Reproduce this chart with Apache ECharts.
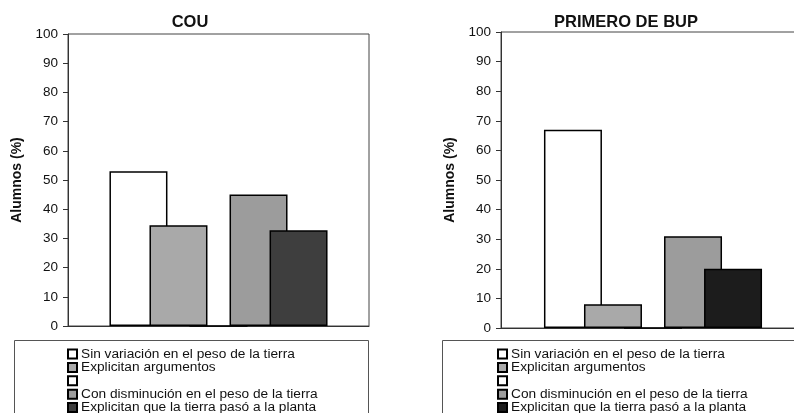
<!DOCTYPE html>
<html>
<head>
<meta charset="utf-8">
<script src="https://cdn.jsdelivr.net/npm/echarts@6/dist/echarts.min.js"></script>
<style>
  html, body { margin: 0; padding: 0; width: 794px; height: 413px; overflow: hidden; background: #fff; }
  #cou { position: absolute; left: 0; top: 0; width: 400px; height: 413px; }
  #bup { position: absolute; left: 400px; top: 0; width: 420px; height: 413px; }
</style>
</head>
<body>
<div id="cou"></div>
<div id="bup"></div>
<script>
// Series names (the third one is an empty spacer entry in the legend)
const seriesNames = [
  'Sin variación en el peso de la tierra',
  'Explicitan argumentos',
  ' ',
  'Con disminución en el peso de la tierra',
  'Explicitan que la tierra pasó a la planta'
];
const categories = [''];
const yTicks = [0, 10, 20, 30, 40, 50, 60, 70, 80, 90, 100];

// Percentage of students per answer type
const couValues = [53, 34.5, 0, 45, 32.8];
const bupValues = [67, 8, 0, 31, 20];

const FONT = 'Liberation Sans, Arial, sans-serif';

function buildOption(title, values, layout) {
  const fills = ['#ffffff', '#a9a9a9', '#ffffff', '#9c9c9c', layout.darkFill];
  return {
    animation: false,
    textStyle: { fontFamily: FONT },
    title: {
      text: title,
      left: layout.titleX,
      top: 9,
      textAlign: 'center',
      textStyle: { fontFamily: FONT, fontSize: 16.5, fontWeight: 'bold', color: '#111' }
    },
    grid: {
      left: layout.gridLeft, right: layout.gridRight, top: layout.gridTop, bottom: layout.gridBottom,
      show: true, borderColor: '#444', borderWidth: 1, backgroundColor: 'transparent'
    },
    legend: {
      orient: 'vertical',
      left: layout.legendX,
      top: 347,
      height: 200,
      padding: 0,
      itemWidth: 9,
      itemHeight: 9,
      itemGap: -0.6,
      icon: 'rect',
      selectedMode: false,
      data: seriesNames,
      textStyle: { fontFamily: FONT, fontSize: 13.7, lineHeight: 13, color: '#111', padding: [0, 0, 0, -1] }
    },
    xAxis: {
      type: 'category',
      data: categories,
      axisLine: { show: true, lineStyle: { color: '#333', width: 1 } },
      axisTick: { show: false },
      axisLabel: { show: false },
      splitLine: { show: false }
    },
    yAxis: {
      type: 'value',
      min: yTicks[0],
      max: yTicks[yTicks.length - 1],
      interval: 10,
      name: 'Alumnos (%)',
      nameLocation: 'middle',
      nameGap: 43,
      nameRotate: 90,
      nameTextStyle: { fontFamily: FONT, fontSize: 14, fontWeight: 'bold', color: '#111' },
      axisLine: { show: true, lineStyle: { color: '#333', width: 1 } },
      axisTick: { show: true, inside: false, length: 5, lineStyle: { color: '#333' } },
      axisLabel: { fontFamily: FONT, fontSize: 13.5, color: '#111', margin: 10 },
      splitLine: { show: false }
    },
    graphic: [{
      type: 'rect',
      shape: { x: layout.boxX + 0.5, y: 340.5, width: layout.boxW, height: 120 },
      style: { fill: 'none', stroke: '#555', lineWidth: 1 },
      silent: true
    }],
    series: seriesNames.map((name, i) => ({
      name: name,
      type: 'bar',
      data: [values[i]],
      barWidth: 58,
      barGap: '-31%',
      itemStyle: { color: fills[i], borderColor: '#000', borderWidth: 1.5 }
    }))
  };
}

const couChart = echarts.init(document.getElementById('cou'), null, { renderer: 'canvas' });
couChart.setOption(buildOption('COU', couValues, {
  titleX: 185, gridLeft: 68, gridRight: 31, gridTop: 34, gridBottom: 87,
  legendX: 67, boxX: 14, boxW: 354, darkFill: '#3e3e3e'
}));

const bupChart = echarts.init(document.getElementById('bup'), null, { renderer: 'canvas' });
bupChart.setOption(buildOption('PRIMERO DE BUP', bupValues, {
  titleX: 221, gridLeft: 101, gridRight: 15, gridTop: 32, gridBottom: 85,
  legendX: 97, boxX: 42, boxW: 400, darkFill: '#1c1c1c'
}));
</script>
</body>
</html>
